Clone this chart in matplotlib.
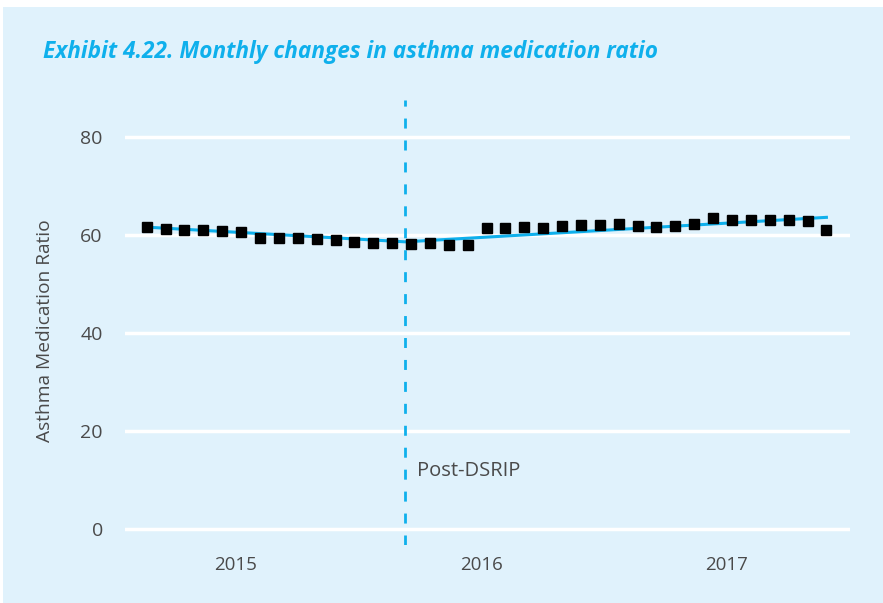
import matplotlib
matplotlib.use("Agg")
import matplotlib.pyplot as plt
from matplotlib.patches import Rectangle
import numpy as np

# monthly asthma medication ratio (index 0 = first month shown)
ratio = [61.6, 61.2, 61.0, 61.0, 60.8, 60.6, 59.4, 59.4, 59.4, 59.2, 59.0,
         58.6, 58.4, 58.4, 58.2, 58.4, 58.0, 58.0, 61.4, 61.4, 61.6, 61.4,
         61.8, 62.0, 62.0, 62.2, 61.8, 61.6, 61.8, 62.2, 63.4, 63.0, 63.0,
         63.0, 63.0, 62.8, 61.0]
months = np.arange(len(ratio))

# fitted segmented trend (start, intervention, end)
trend_x = [0, 13.7, 36]
trend_y = [61.6, 58.6, 63.6]

intervention = 13.7
year_pos = [4.7, 17.75, 30.7]
year_labels = ["2015", "2016", "2017"]
y_ticks = [0, 20, 40, 60, 80]

BG = "#e0f2fc"
CYAN = "#0fb0ec"
TXT = "#4a4a4a"

plt.rcParams["font.family"] = ["Open Sans", "DejaVu Sans"]

fig = plt.figure(figsize=(8.83, 6.03), dpi=100, facecolor="white")
fig.patches.append(Rectangle((3 / 883, 0), 1, 1 - 7 / 603, transform=fig.transFigure,
                             facecolor=BG, edgecolor="none", zorder=-10))

ax = fig.add_axes([125 / 883, 1 - 545 / 603, 725 / 883, 445 / 603])
ax.set_facecolor(BG)
for s in ax.spines.values():
    s.set_visible(False)

ax.set_xlim(-1.15, 37.25)
ax.set_ylim(-3.27, 87.55)

ax.set_yticks(y_ticks)
ax.grid(axis="y", color="white", lw=2.5)
ax.set_axisbelow(True)
ax.tick_params(axis="y", length=0, pad=16, labelsize=14, labelcolor=TXT)
ax.set_xticks(year_pos)
ax.set_xticklabels(year_labels)
ax.tick_params(axis="x", length=0, pad=8, labelsize=13.5, labelcolor=TXT)

ax.plot(trend_x, trend_y, color=CYAN, lw=2.2, zorder=2)
ax.plot(months, ratio, "s", color="black", ms=7, zorder=3)

ax.axvline(intervention, color=CYAN, lw=2, linestyle=(0, (3.6, 4.3)), zorder=2)
ax.text(intervention + 0.6, 11.8, "Post-DSRIP", fontsize=14.5, color=TXT, va="center", ha="left")

fig.text(45 / 883, 1 - 331 / 603, "Asthma Medication Ratio", rotation=90,
         fontsize=13.8, color=TXT, ha="center", va="center")
fig.text(43 / 883, 1 - 52 / 603, "Exhibit 4.22. Monthly changes in asthma medication ratio",
         fontsize=16.3, color=CYAN, style="italic", weight="bold", ha="left", va="center")

fig.savefig("out.png", dpi=100, facecolor="white")
